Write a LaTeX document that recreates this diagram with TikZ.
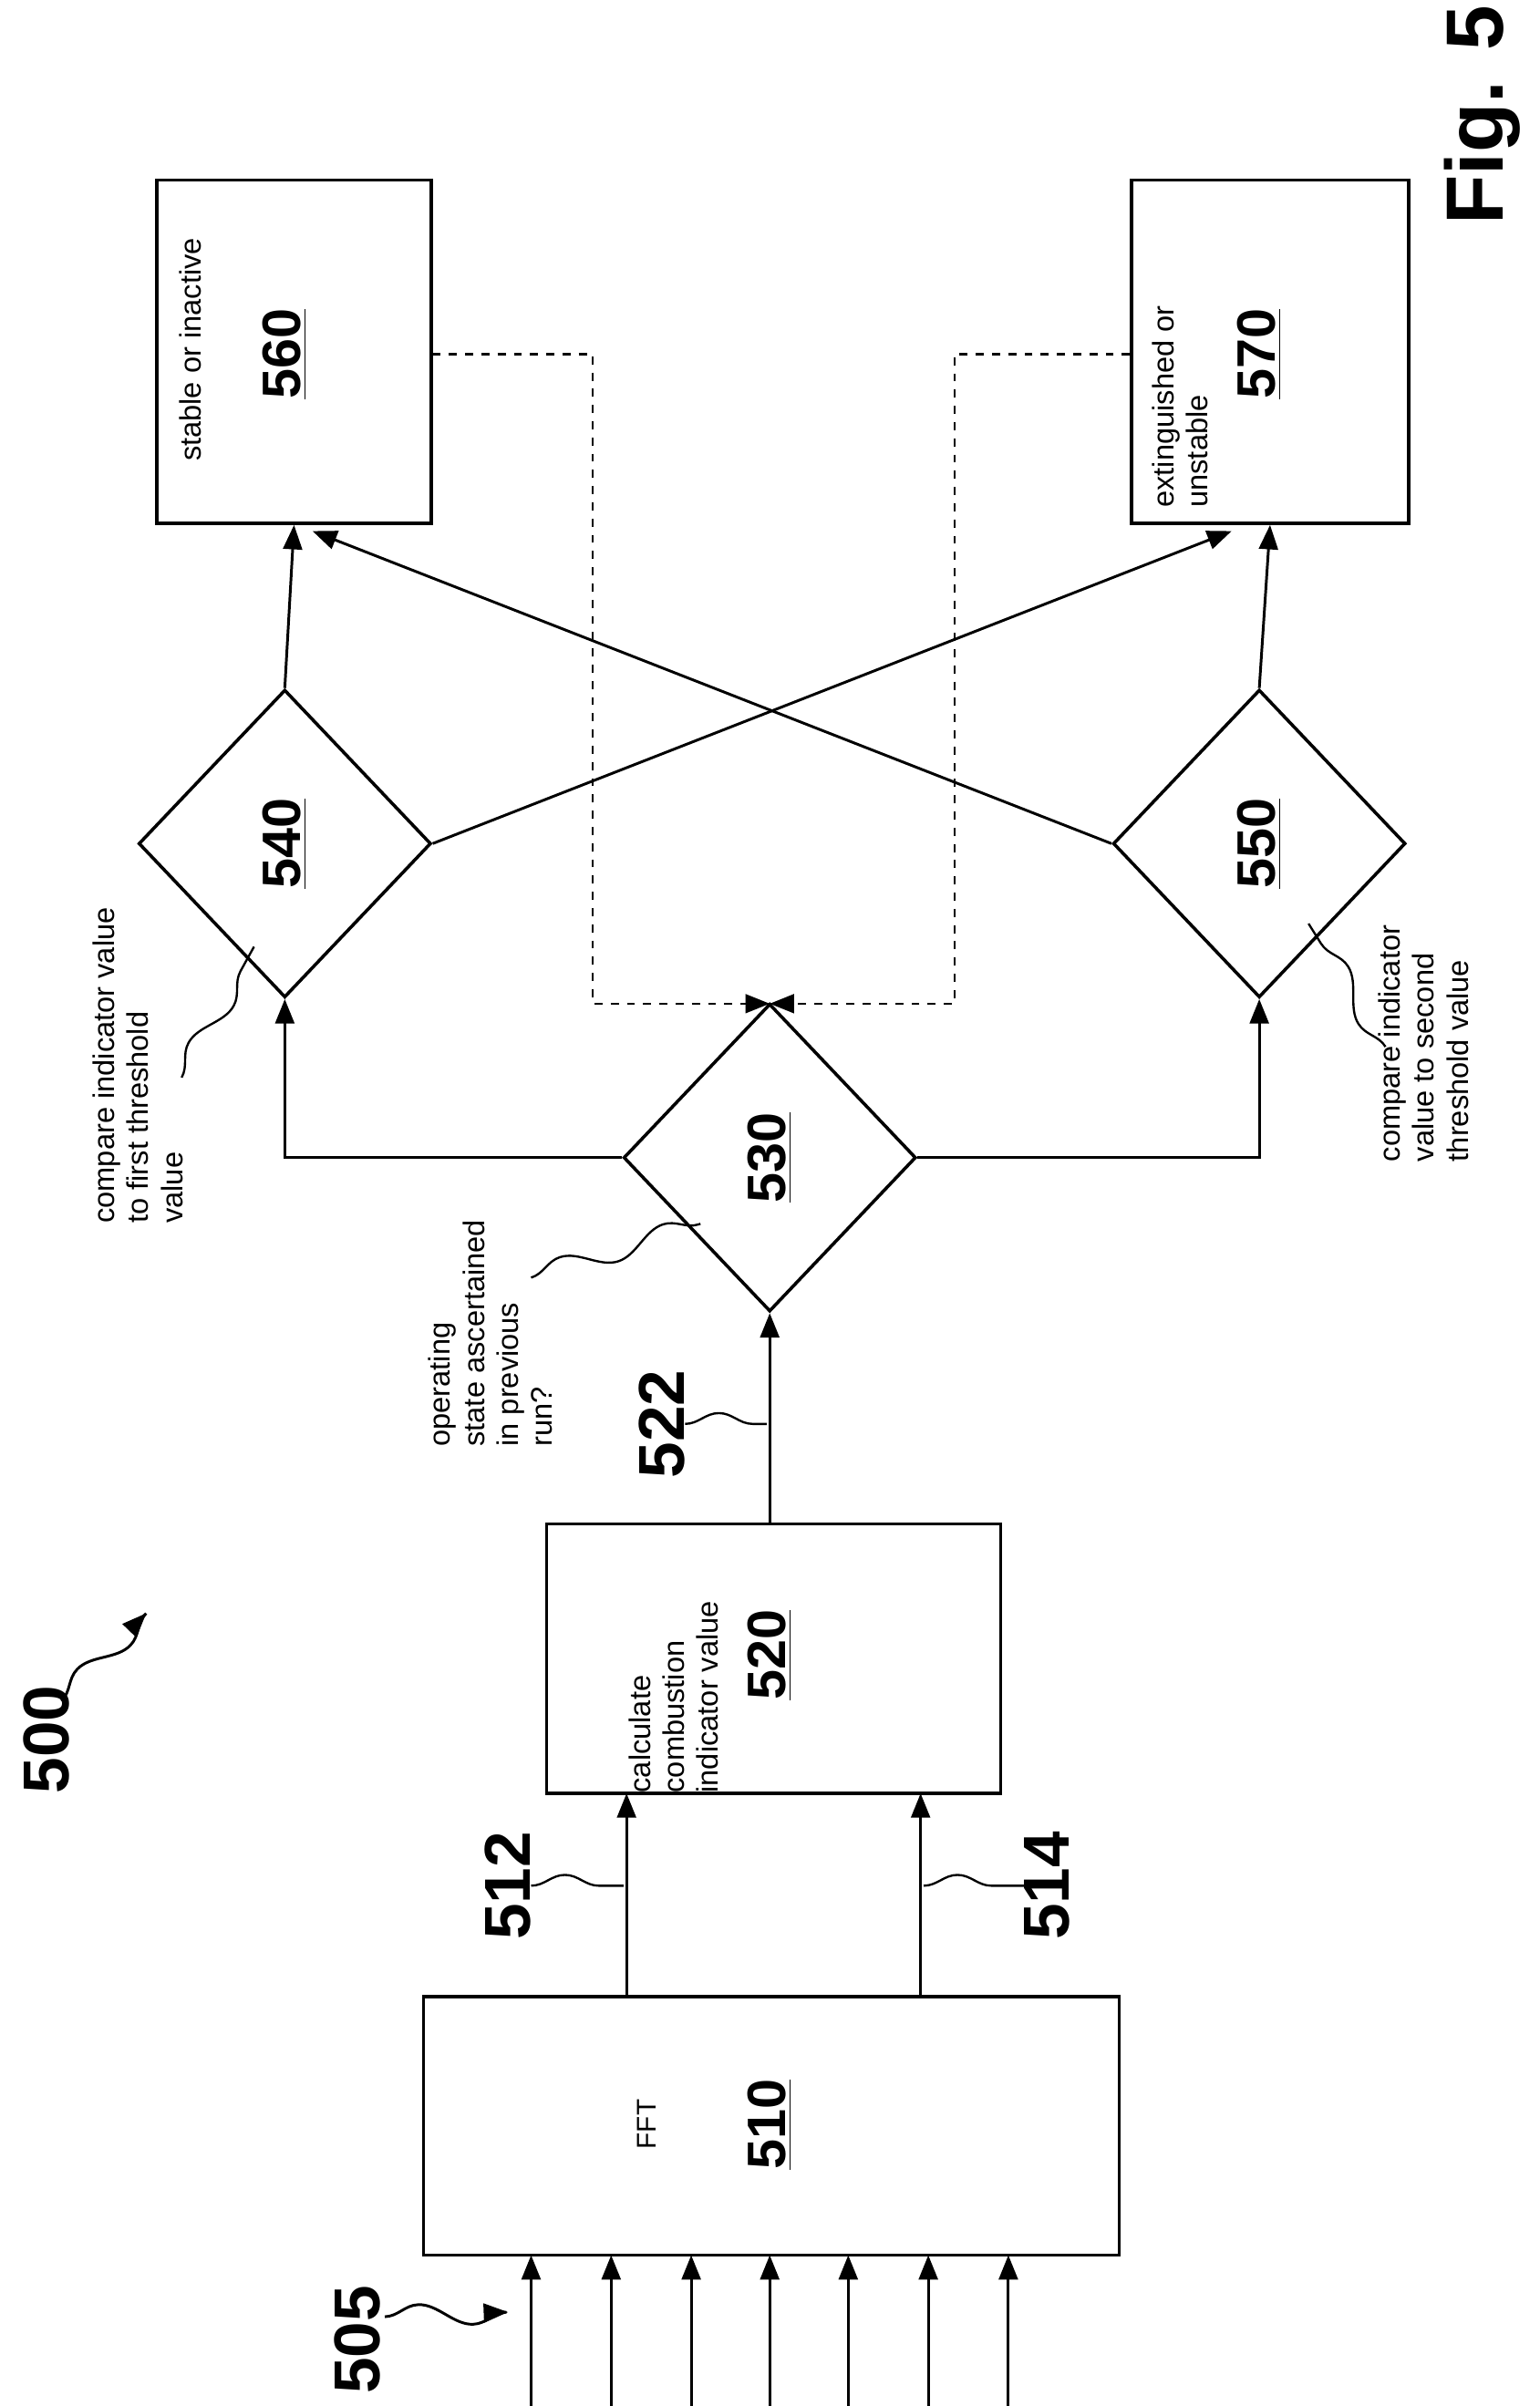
\documentclass[tikz,border=0pt]{standalone}
\usepackage{fontspec}
\setmainfont{Liberation Sans}
\usetikzlibrary{arrows.meta,shapes.geometric,decorations.pathmorphing}
\tikzset{>={Triangle[length=9pt,width=7pt]}}
\tikzstyle{box}=[draw,line width=1.2pt,inner sep=0pt]
\tikzstyle{dia}=[draw,diamond,line width=1.2pt,minimum width=3.8cm,minimum height=4cm,inner sep=0pt]
\tikzstyle{num}=[rotate=90,font=\fontsize{20}{20}\selectfont\bfseries]
\tikzstyle{ref}=[rotate=90,font=\fontsize{24}{24}\selectfont\bfseries]
\tikzstyle{txt}=[rotate=90,anchor=north west,align=left,inner sep=0pt,font=\fontsize{11}{12.6}\selectfont]
\tikzstyle{wave}=[decorate,decoration={snake,amplitude=4pt,segment length=40pt}]
\begin{document}
\begin{tikzpicture}[x=0.02cm,y=-0.02cm]
  \useasboundingbox (0,0) rectangle (1000,1563);
  % boxes
  \node[box,minimum width=9.04cm,minimum height=3.36cm] (b510) at (501,1381) {};
  \node[box,minimum width=5.9cm,minimum height=3.5cm] (b520) at (502.5,1077.5) {};
  \node[box,minimum width=3.56cm,minimum height=4.46cm] (b560) at (191,228.5) {};
  \node[box,minimum width=3.6cm,minimum height=4.46cm] (b570) at (825,228.5) {};
  \node[dia] (d530) at (500,752) {};
  \node[dia] (d540) at (185,548) {};
  \node[dia] (d550) at (818,548) {};
  % texts
  \node[rotate=90] at (420,1380) {FFT};
  \node[num] at (500,1380) {\underline{510}};
  \node[txt] at (408,1165) {calculate\\combustion\\indicator value};
  \node[num] at (500,1075) {\underline{520}};
  \node[num] at (500,752) {\underline{530}};
  \node[num] at (185,548) {\underline{540}};
  \node[num] at (818,548) {\underline{550}};
  \node[txt] at (116,300) {stable or inactive};
  \node[num] at (185,230) {\underline{560}};
  \node[txt] at (748,330) {extinguished or\\unstable};
  \node[num] at (818,230) {\underline{570}};
  \node[rotate=90,font=\fontsize{30}{30}\selectfont\bfseries] at (963,75) {Fig. 5};
  % inputs
  \foreach \x in {345,397,449,500,551,603,655}
    \draw[->,line width=1pt] (\x,1563) -- (\x,1465);
  \node[ref] (r505) at (232,1520) {505};
  \draw[->,line width=1pt,wave] (250,1505) -- (330,1502);
  \node[ref] (r500) at (30,1130) {500};
  \draw[->,line width=1pt,wave] (40,1105) -- (95,1048);
  % signals
  \draw[->,line width=1pt] (407,1297) -- (407,1165);
  \draw[->,line width=1pt] (598,1297) -- (598,1165);
  \draw[->,line width=1pt] (500,990) -- (d530.south);
  \node[ref] at (330,1225) {512};
  \node[ref] at (680,1225) {514};
  \node[ref] at (430,925) {522};
  \draw[wave,line width=0.8pt] (345,1225) -- (405,1225);
  \draw[wave,line width=0.8pt] (600,1225) -- (665,1225);
  \draw[wave,line width=0.8pt] (445,925) -- (498,925);
  \draw[->,line width=1pt] (d530.west) -| (d540.south);
  \draw[->,line width=1pt] (d530.east) -| (d550.south);
  \draw[->,line width=1pt] (d540.north) -- (b560.south);
  \draw[->,line width=1pt] (d550.north) -- (b570.south);
  \draw[->,line width=1pt] (d540.east) -- (800,345);
  \draw[->,line width=1pt] (d550.west) -- (203,345);
  % feedback
  \draw[->,dashed,line width=0.8pt] (b560.east |- 0,230) -- (385,230) -- (385,652) -- (500,652);
  \draw[->,dashed,line width=0.8pt] (b570.west |- 0,230) -- (620,230) -- (620,652) -- (500,652);
  % annotations
  \node[txt] at (60,795) {compare indicator value\\to first threshold\\value};
  \draw[wave,line width=0.8pt] (118,700) -- (165,615);
  \node[txt] at (895,755) {compare indicator\\value to second\\threshold value};
  \draw[wave,line width=0.8pt] (900,680) -- (850,600);
  \node[txt] at (278,940) {operating\\state ascertained\\in previous\\run?};
  \draw[wave,line width=0.8pt] (345,830) -- (455,795);
\end{tikzpicture}
\end{document}
